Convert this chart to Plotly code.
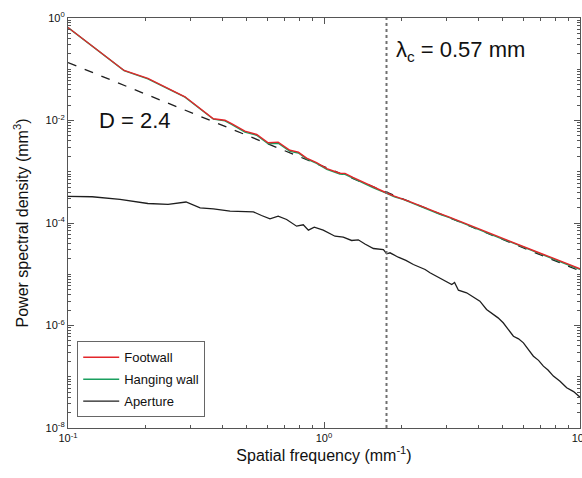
import plotly.graph_objects as go

# ---------------- data ----------------
freq_wall = [0.100, 0.1656, 0.2051, 0.2460, 0.2864, 0.3698, 0.4102, 0.4355, 0.4909, 0.5458,
             0.6053, 0.6622, 0.7362, 0.7943, 0.8551, 0.9354, 1.026, 1.153, 1.208, 1.297,
             1.419, 1.552, 1.758, 1.884, 2.037, 2.188, 2.371, 2.570, 2.838, 3.090,
             3.388, 3.715, 4.064, 4.467, 4.898, 5.370, 5.888, 6.457, 7.079, 7.762,
             8.511, 9.226, 10.0]
psd_footwall = [0.653, 0.0946, 0.0661, 0.0421, 0.0290, 0.01079, 0.01014, 0.00873, 0.00618, 0.00533,
                0.00367, 0.00378, 0.00263, 0.00241, 0.00184, 0.00150, 1.150e-3, 9.35e-4, 9.30e-4, 7.75e-4,
                6.25e-4, 5.00e-4, 3.85e-4, 3.35e-4, 2.96e-4, 2.55e-4, 2.18e-4, 1.84e-4, 1.52e-4, 1.30e-4,
                1.08e-4, 9.02e-5, 7.45e-5, 6.24e-5, 5.16e-5, 4.37e-5, 3.60e-5, 3.03e-5, 2.51e-5, 2.11e-5,
                1.75e-5, 1.49e-5, 1.28e-5]
psd_hanging = [0.650, 0.0940, 0.0650, 0.0410, 0.0285, 0.01060, 0.00985, 0.00840, 0.00595, 0.00515,
               0.00350, 0.00360, 0.00250, 0.00232, 0.00178, 0.00145, 1.11e-3, 9.05e-4, 8.90e-4, 7.48e-4,
               6.05e-4, 4.88e-4, 3.78e-4, 3.25e-4, 2.90e-4, 2.49e-4, 2.13e-4, 1.80e-4, 1.48e-4, 1.27e-4,
               1.05e-4, 8.80e-5, 7.27e-5, 6.07e-5, 5.03e-5, 4.24e-5, 3.51e-5, 2.96e-5, 2.45e-5, 2.06e-5,
               1.71e-5, 1.45e-5, 1.24e-5]

freq_aperture = [0.100, 0.1242, 0.1596, 0.2051, 0.2460, 0.2891, 0.3281, 0.3698, 0.4295, 0.5297,
                 0.5702, 0.6152, 0.6622, 0.7145, 0.7816, 0.8299, 0.8690, 0.9162, 0.9931, 1.104,
                 1.189, 1.282, 1.361, 1.445, 1.560, 1.706, 1.758, 1.811, 1.950, 2.089,
                 2.234, 2.371, 2.483, 2.594, 2.786, 3.013, 3.155, 3.236, 3.350, 3.606,
                 3.846, 4.064, 4.315, 4.581, 4.786, 5.012, 5.248, 5.495, 5.754, 6.012,
                 6.310, 6.577, 6.887, 7.194, 7.499, 7.870, 8.356, 8.872, 9.441, 10.0]
psd_aperture = [3.30e-4, 3.25e-4, 2.88e-4, 2.40e-4, 2.30e-4, 2.57e-4, 1.98e-4, 1.89e-4, 1.70e-4, 1.65e-4,
                1.40e-4, 1.21e-4, 1.36e-4, 1.17e-4, 8.67e-5, 9.23e-5, 7.24e-5, 8.28e-5, 7.24e-5, 5.52e-5,
                5.28e-5, 4.56e-5, 4.70e-5, 3.89e-5, 3.18e-5, 3.04e-5, 2.51e-5, 2.62e-5, 2.15e-5, 1.86e-5,
                1.55e-5, 1.34e-5, 1.24e-5, 1.07e-5, 8.91e-6, 7.31e-6, 6.31e-6, 6.90e-6, 4.89e-6, 4.35e-6,
                3.47e-6, 2.98e-6, 2.05e-6, 1.64e-6, 1.41e-6, 1.13e-6, 8.51e-7, 6.18e-7, 5.50e-7, 4.59e-7,
                3.31e-7, 2.52e-7, 2.09e-7, 1.61e-7, 1.35e-7, 1.03e-7, 8.18e-8, 6.08e-8, 5.13e-8, 4.00e-8]

fit_freq = [0.1, 10.0]
fit_psd = [0.1355, 1.16e-5]

lambda_c = 0.57  # mm
x_ticks = [0.1, 1, 10]
x_ticktext = ["10<sup>-1</sup>", "10<sup>0</sup>", "10<sup>1</sup>"]
y_label_ticks = [1e-8, 1e-6, 1e-4, 1e-2, 1]
y_ticktext = ["10<sup>-8</sup>", "10<sup>-6</sup>", "10<sup>-4</sup>", "10<sup>-2</sup>", "10<sup>0</sup>"]
y_decades = [1e-8, 1e-7, 1e-6, 1e-5, 1e-4, 1e-3, 1e-2, 1e-1, 1]

FONT = "Liberation Sans, Arial, Helvetica, sans-serif"
RED = "#e3262b"
GREEN = "#1a9f5f"
BLACK = "#1e1e1e"
AXIS = "#555555"

fig = go.Figure()
fig.add_trace(go.Scatter(x=fit_freq, y=fit_psd, mode="lines", showlegend=False,
                         line=dict(color=BLACK, width=1.3, dash="dash")))
fig.add_trace(go.Scatter(x=freq_aperture, y=psd_aperture, mode="lines", name="Aperture",
                         legendrank=3, legendgroup="c", line=dict(color=BLACK, width=1.3)))
fig.add_trace(go.Scatter(x=freq_wall, y=psd_hanging, mode="lines", name="Hanging wall",
                         legendrank=2, legendgroup="b", line=dict(color=GREEN, width=1.4)))
fig.add_trace(go.Scatter(x=freq_wall, y=psd_footwall, mode="lines", name="Footwall",
                         legendrank=1, legendgroup="a", line=dict(color=RED, width=1.4)))

fc = 1.0 / lambda_c
fig.add_shape(type="line", xref="x", yref="paper", x0=fc, x1=fc, y0=0, y1=1,
              line=dict(color="#707070", width=2, dash="dot"))

fig.add_annotation(x=-0.885, y=-2.0, xref="x", yref="y", text="D = 2.4", showarrow=False,
                   xanchor="left", yanchor="middle", font=dict(size=22, color="#111", family=FONT))
fig.add_annotation(x=0.275, y=-0.64, xref="x", yref="y", text="λ<sub>c</sub> = 0.57 mm",
                   showarrow=False, xanchor="left", yanchor="middle",
                   font=dict(size=22, color="#111", family=FONT))

minor = dict(ticks="inside", ticklen=3, tickwidth=1, tickcolor=AXIS, dtick="D1", showgrid=False)
axis_common = dict(showline=True, linecolor=AXIS, linewidth=1.2, mirror="allticks",
                   ticks="inside", ticklen=6, tickwidth=1, tickcolor=AXIS,
                   showgrid=False, zeroline=False, ticklabeloverflow="allow",
                   tickfont=dict(size=11, color="#111", family=FONT))

fig.update_layout(
    xaxis=dict(type="log", range=[-1, 1], tickvals=x_ticks, ticktext=x_ticktext, minor=minor,
               title=dict(text="Spatial frequency (mm<sup>-1</sup>)", standoff=6,
                          font=dict(size=16, color="#111", family=FONT)),
               **axis_common),
    yaxis=dict(type="log", range=[-8, 0], tickvals=y_label_ticks, ticktext=y_ticktext, minor=minor,
               title=dict(text="Power spectral density (mm<sup>3</sup>)", standoff=13,
                          font=dict(size=16, color="#111", family=FONT)),
               **axis_common),
    yaxis2=dict(type="log", range=[-8, 0], overlaying="y", side="left", anchor="x",
                tickvals=y_decades, showticklabels=False, showline=True, linecolor=AXIS,
                linewidth=1.2, mirror="allticks", ticks="inside", ticklen=6, tickwidth=1,
                tickcolor=AXIS, showgrid=False, zeroline=False),
    width=582, height=478,
    margin=dict(l=68, r=2, t=18, b=50, autoexpand=False),
    paper_bgcolor="white", plot_bgcolor="white",
    font=dict(family=FONT, color="#111"),
    legend=dict(x=0.018, y=0.026, xanchor="left", yanchor="bottom",
                bgcolor="white", bordercolor="#666", borderwidth=1,
                font=dict(size=13, family=FONT, color="#111"),
                itemwidth=36, tracegroupgap=2),
)

fig.write_html("out.html")
